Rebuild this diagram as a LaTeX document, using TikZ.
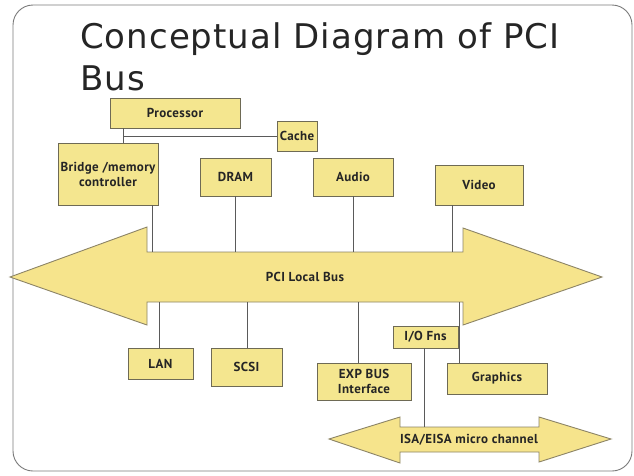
\documentclass[tikz,border=0pt]{standalone}
\usepackage{fontspec}
\setmainfont{DejaVu Sans}
\newfontfamily\boxfont{PT Sans}[LetterSpace=3]
\newfontfamily\titlefont{DejaVu Sans}[LetterSpace=3]
\definecolor{boxfill}{HTML}{F4E68F}
\definecolor{boxline}{HTML}{6E6A55}
\definecolor{busfill}{HTML}{F6E48C}
\definecolor{busline}{HTML}{8C8466}
\definecolor{frameline}{HTML}{7A7A7A}
\definecolor{txt}{HTML}{252525}
\definecolor{conn}{HTML}{5A5A5A}
\begin{document}
\begin{tikzpicture}[x=1pt,y=-1pt,
  blk/.style={draw=boxline,line width=0.9pt,fill=boxfill,inner sep=0pt,align=center,
    font=\boxfont\bfseries\fontsize{13}{15}\selectfont,text=txt},
  wire/.style={draw=conn,line width=0.8pt},
  bus/.style={draw=busline,line width=0.9pt,fill=busfill,line join=miter},
  buslabel/.style={font=\boxfont\bfseries\fontsize{13}{15}\selectfont,text=txt,inner sep=0pt},
  ttl/.style={anchor=base west,inner sep=0pt,text=txt,font=\titlefont\fontsize{34}{38}\selectfont}]
\useasboundingbox (0,0) rectangle (634,475);
\fill[white] (0,0) rectangle (634,475);
% frame
\draw[frameline,line width=0.9pt,rounded corners=20pt] (13,5) rectangle (632,471);
% title
\node[ttl] (t1) at (80,48) {Conceptual Diagram of PCI};
\node[ttl] (t2) at (80,90) {Bus};
% buses
\path[bus] (10,277) -- (147,227) -- (147,252) -- (463,252) -- (463,228) -- (602,277)
  -- (463,325) -- (463,302) -- (147,302) -- (147,325) -- cycle;
\node[buslabel] (pci) at (305,277) {PCI Local Bus};
\path[bus] (329,439) -- (400,417) -- (400,427) -- (539,427) -- (539,417) -- (611,439)
  -- (539,462) -- (539,452) -- (400,452) -- (400,463) -- cycle;
\node[buslabel] (isa) at (469,440) {ISA/EISA micro channel};
\coordinate (pcitop) at (0,252);
\coordinate (pcibot) at (0,302);
\coordinate (isatop) at (0,427);
% boxes
\node[blk,minimum width=130pt,minimum height=30pt] (proc) at (175,113) {Processor};
\node[blk,minimum width=40pt,minimum height=30pt] (cache) at (297,136) {Cache};
\node[blk,minimum width=100pt,minimum height=62pt] (bridge) at (108,174) {Bridge /memory\\controller};
\node[blk,minimum width=71pt,minimum height=38pt] (dram) at (235.5,177) {DRAM};
\node[blk,minimum width=80pt,minimum height=38pt] (audio) at (353,177) {Audio};
\node[blk,minimum width=88pt,minimum height=40pt] (video) at (479,185) {Video};
\node[blk,minimum width=65pt,minimum height=31pt] (lan) at (160.5,363.5) {LAN};
\node[blk,minimum width=71pt,minimum height=38pt] (scsi) at (246.5,367) {SCSI};
\node[blk,minimum width=94pt,minimum height=37pt] (exp) at (364,381.5) {EXP BUS\\Interface};
\node[blk,minimum width=65pt,minimum height=22pt] (iofns) at (425.5,337) {I/O Fns};
\node[blk,minimum width=100pt,minimum height=31pt] (gfx) at (497,378.5) {Graphics};
% x positions of connectors
\coordinate (xp) at (123,0);
\coordinate (xb) at (152,0);
\coordinate (xd) at (235,0);
\coordinate (xa) at (353,0);
\coordinate (xv) at (452,0);
\coordinate (xl) at (159,0);
\coordinate (xs) at (247,0);
\coordinate (xe) at (358,0);
\coordinate (xg) at (459,0);
\coordinate (xi) at (424,0);
\coordinate (jc) at (123,136);
% connectors
\draw[wire] (proc.south -| xp) -- (bridge.north -| xp);
\draw[wire] (jc) -- (cache.west);
\draw[wire] (bridge.south -| xb) -- (pcitop -| xb);
\draw[wire] (dram.south -| xd) -- (pcitop -| xd);
\draw[wire] (audio.south -| xa) -- (pcitop -| xa);
\draw[wire] (video.south -| xv) -- (pcitop -| xv);
\draw[wire] (pcibot -| xl) -- (lan.north -| xl);
\draw[wire] (pcibot -| xs) -- (scsi.north -| xs);
\draw[wire] (pcibot -| xe) -- (exp.north -| xe);
\draw[wire] (pcibot -| xg) -- (gfx.north -| xg);
\draw[wire] (iofns.south -| xi) -- (isatop -| xi);
\end{tikzpicture}
\end{document}
